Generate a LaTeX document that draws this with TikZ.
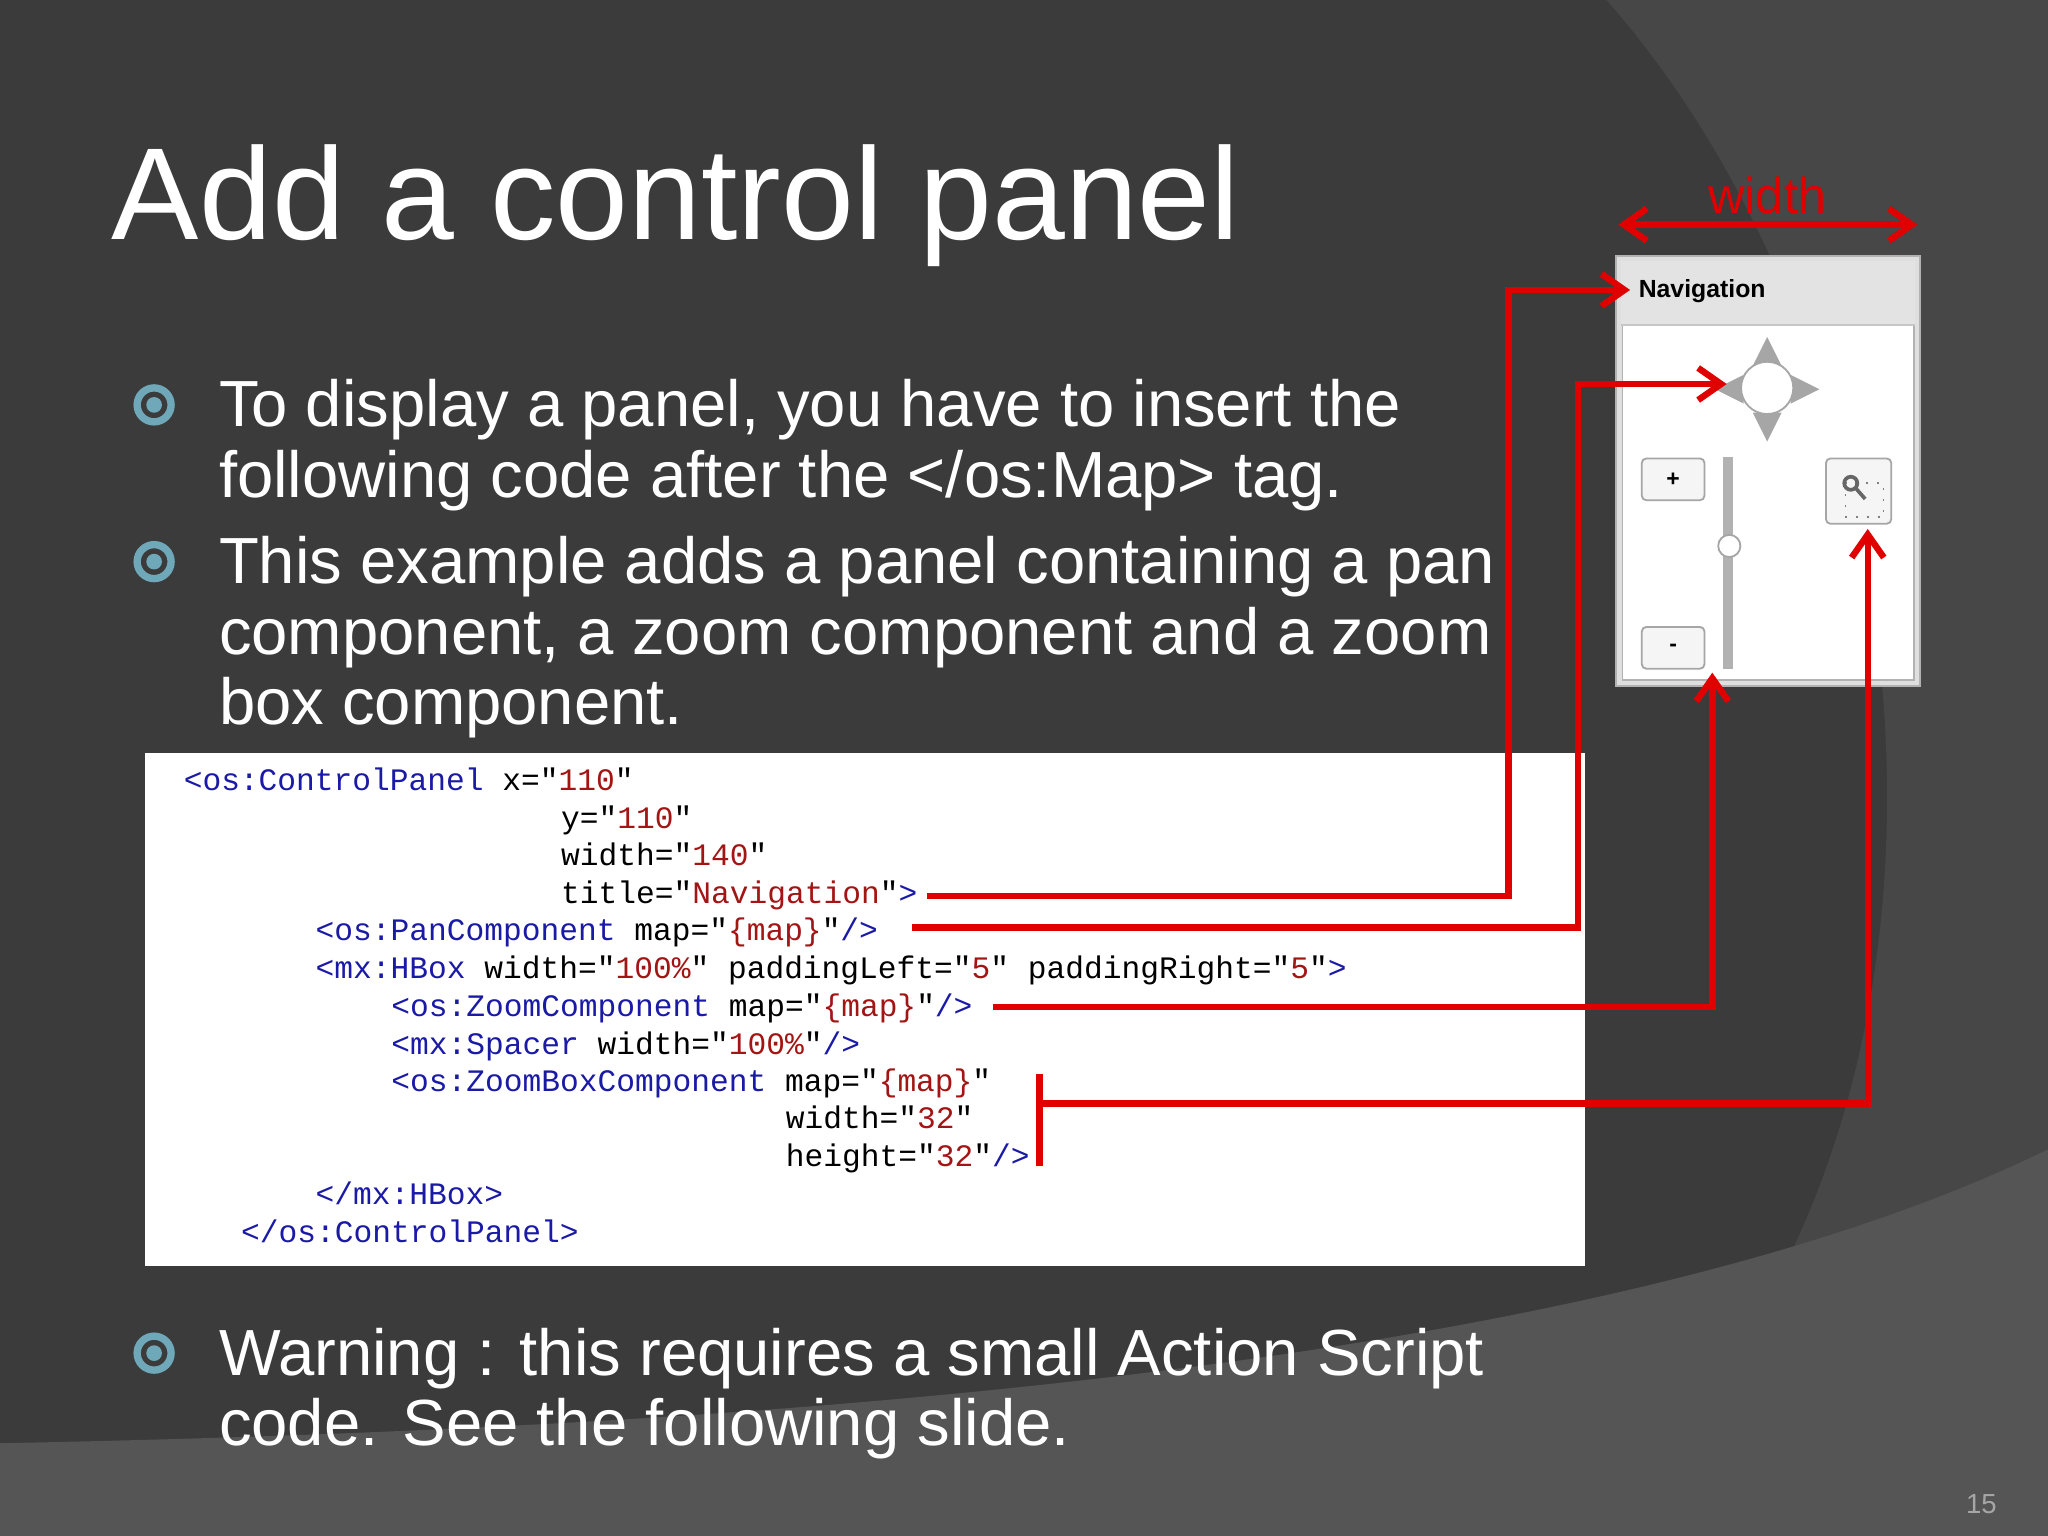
\documentclass[tikz,border=0pt]{standalone}
\usepackage{fontspec}
\setmainfont{Liberation Sans}
\setmonofont{Liberation Mono}
\usetikzlibrary{arrows.meta}
\definecolor{bg}{HTML}{3B3B3B}
\definecolor{bg2}{HTML}{474747}
\definecolor{bg3}{HTML}{555555}
\definecolor{bul}{HTML}{6FA8B8}
\definecolor{ctag}{HTML}{1A1AA6}
\definecolor{cval}{HTML}{A31515}
\definecolor{rline}{HTML}{E00000}
\newcommand{\tg}[1]{\textcolor{ctag}{#1}}
\newcommand{\vl}[1]{\textcolor{cval}{#1}}
\begin{document}
\begin{tikzpicture}[x=0.01cm,y=-0.01cm,
  code/.style={anchor=base west,inner sep=0,font=\fontsize{6.8}{7}\selectfont\ttfamily},
  btext/.style={anchor=base west,inner sep=0,text=white,font=\fontsize{14.2}{15.4}\selectfont,align=left},
  red/.style={draw=rline,line width=1.4pt},
  redarr/.style={red,-{Straight Barb[length=5pt,width=7pt]}},
  btn/.style={draw=gray!70,fill=gray!8,rounded corners=1pt}]
\useasboundingbox (0,0) rectangle (1568,1176);
\fill[bg] (0,0) rectangle (1568,1176);
\fill[bg2] (1230,0) .. controls (1450,250) and (1520,700) .. (1350,1000) .. controls (1250,1150) and (1100,1176) .. (1000,1176) -- (1568,1176) -- (1568,0) -- cycle;
\fill[bg3] (0,1105) .. controls (500,1095) and (1200,1060) .. (1568,880) -- (1568,1176) -- (0,1176) -- cycle;
\node[anchor=base west,inner sep=0,text=white,font=\fontsize{28.5}{30}\selectfont] (title) at (85,183) {Add a control panel};
% bullets
\foreach \n/\y in {b1/310,b2/430,b3/1036}{
  \node[circle,draw=bul,line width=1.6pt,minimum size=0.26cm,inner sep=0] (\n) at (118,\y) {};
  \fill[bul] (\n.center) circle (0.06cm);}
\node[btext] (t1) at (167,381) {To display a panel, you have to insert the\\following code after the </os:Map> tag.};
\node[btext] (t2) at (167,555) {This example adds a panel containing a pan\\component, a zoom component and a zoom\\box component.};
\node[btext] (t3) at (167,1107) {Warning : this requires a small Action Script\\code. See the following slide.};
% code box
\node[fill=white,inner sep=0,minimum width=11.02cm,minimum height=3.92cm,anchor=north west] (box) at (110,576) {};
\node[code] (c1) at (140,605) {\tg{<os:ControlPanel} x="\vl{110}"};
\node[code] (c2) at (429,634) {y="\vl{110}"};
\node[code] (c3) at (429,663) {width="\vl{140}"};
\node[code] (c4) at (429,692) {title="\vl{Navigation}"\tg{>}};
\node[code] (c5) at (241,720) {\tg{<os:PanComponent} map="\vl{\{map\}}"\tg{/>}};
\node[code] (c6) at (241,749) {\tg{<mx:HBox} width="\vl{100\%}" paddingLeft="\vl{5}" paddingRight="\vl{5}"\tg{>}};
\node[code] (c7) at (299,778) {\tg{<os:ZoomComponent} map="\vl{\{map\}}"\tg{/>}};
\node[code] (c8) at (299,807) {\tg{<mx:Spacer} width="\vl{100\%}"\tg{/>}};
\node[code] (c9) at (299,836) {\tg{<os:ZoomBoxComponent} map="\vl{\{map\}}"};
\node[code] (c10) at (601,864) {width="\vl{32}"};
\node[code] (c11) at (601,893) {height="\vl{32}"\tg{/>}};
\node[code] (c12) at (241,922) {\tg{</mx:HBox>}};
\node[code] (c13) at (184,951) {\tg{</os:ControlPanel>}};
% navigation panel
\node[draw=gray!60,double=gray!25,double distance=1pt,fill=white,inner sep=0,minimum width=2.28cm,minimum height=3.24cm,anchor=north west] (panel) at (1239,198) {};
\fill[gray!22] (1241,200) rectangle (1466,249);
\draw[gray!45] (1241,249) -- (1466,249);
\node[anchor=west,inner sep=0,font=\fontsize{5.4}{6}\selectfont\bfseries] (navt) at (1254,223) {Navigation};
\coordinate (navin) at (1248,222);
% pan control
\foreach \a in {0,90,180,270}{
  \fill[gray!70,rotate around={\a:(1353,298)}] (1353,258) -- (1342,280) -- (1364,280) -- cycle;}
\node[circle,draw=gray!70,fill=white,minimum size=0.4cm,inner sep=0] (pan) at (1353,297) {};
\coordinate (panin) at (1322,294);
% zoom
\node[btn,minimum width=0.48cm,minimum height=0.32cm,inner sep=0,font=\fontsize{5}{5}\selectfont\bfseries] (plus) at (1281,367) {+};
\node[btn,minimum width=0.48cm,minimum height=0.32cm,inner sep=0,font=\fontsize{5}{5}\selectfont\bfseries] (minus) at (1281,496) {-};
\draw[gray!60,line width=2pt] (1323,350) -- (1323,512);
\node[circle,draw=gray!70,fill=white,minimum size=0.17cm,inner sep=0] (knob) at (1324,418) {};
\coordinate (zoomin) at (1311,515);
\node[btn,minimum width=0.5cm,minimum height=0.5cm,inner sep=0] (zb) at (1423,376) {};
\draw[gray,dotted] (1413,370) rectangle (1442,396);
\draw[gray!80!black,line width=0.8pt] (1417,370) circle (0.05cm) (1421,374) -- (1428,382);
\coordinate (zbin) at (1430,405);
% width arrow
\coordinate (wl) at (1239,172);
\coordinate (wr) at (1468,172);
\draw[red,{Straight Barb[length=5pt,width=7pt]}-{Straight Barb[length=5pt,width=7pt]}] (wl) -- (wr);
\node[text=rline,font=\fontsize{11}{12}\selectfont,inner sep=0] (wtext) at (1353,150) {width};
% connectors
\coordinate (s1) at (710,686);
\coordinate (s2) at (698,710);
\coordinate (s3) at (760,771);
\coordinate (s4a) at (796,822);
\coordinate (s4b) at (796,893);
\coordinate (s4) at (796,845);
\draw[redarr] (s1) -- (1155,686) -- (1155,222) -- (navin);
\draw[redarr] (s2) -- (1208,710) -- (1208,294) -- (panin);
\draw[redarr] (s3) -- (1311,771) -- (zoomin);
\draw[red] (s4a) -- (s4b);
\draw[redarr] (s4) -- (1430,845) -- (zbin);
\node[text=gray!70,font=\fontsize{6}{6}\selectfont,inner sep=0] (pg) at (1517,1152) {15};
\end{tikzpicture}
\end{document}
